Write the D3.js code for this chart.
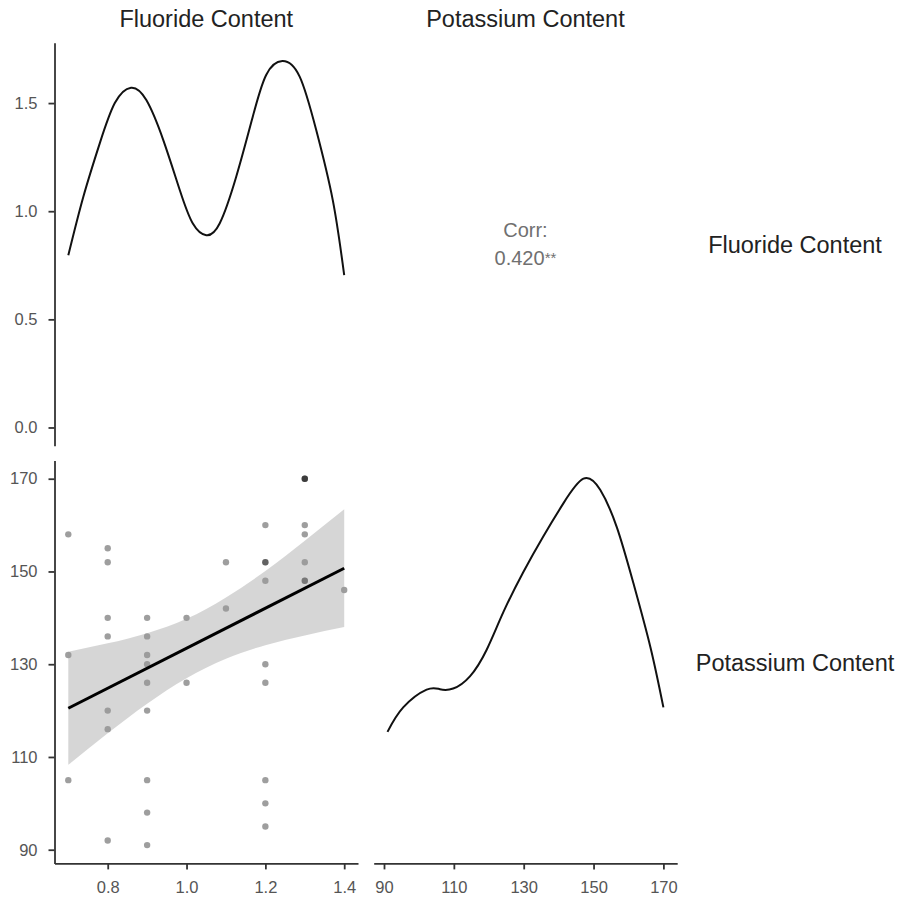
<!DOCTYPE html>
<html lang="en">
<head>
  <meta charset="UTF-8">
  <title>Fluoride and Potassium Content</title>
  <script src="https://d3js.org/d3.v7.min.js"></script>
  <style>
    body {
      margin: 0;
      background: #fff;
      font-family: "Liberation Sans", Arial, Helvetica, sans-serif;
    }
    .axis path, .axis line {
      stroke: #333;
      stroke-width: 1.8px;
    }
    .axis text {
      fill: #555;
      font-size: 16.5px;
      font-family: "Liberation Sans", Arial, Helvetica, sans-serif;
    }
    .strip {
      fill: #222;
      font-size: 23.5px;
    }
    .corr {
      fill: #707070;
      font-size: 20px;
    }
  </style>
</head>
<body>
  <div id="chart"></div>

  <script>
    // variable names
    const labels = ["Fluoride Content", "Potassium Content"];

    const fluoride = [
      0.7, 0.7, 0.7,
      0.8, 0.8, 0.8, 0.8, 0.8, 0.8, 0.8,
      0.9, 0.9, 0.9, 0.9, 0.9, 0.9, 0.9, 0.9, 0.9,
      1.0, 1.0,
      1.1, 1.1,
      1.2, 1.2, 1.2, 1.2, 1.2, 1.2, 1.2, 1.2, 1.2,
      1.3, 1.3, 1.3, 1.3, 1.3, 1.3, 1.3, 1.3,
      1.4
    ];
    const potassium = [
      158, 132, 105,
      155, 152, 140, 136, 120, 116, 92,
      140, 136, 132, 130, 126, 120, 105, 98, 91,
      140, 126,
      152, 142,
      160, 152, 152, 148, 130, 126, 105, 100, 95,
      170, 170, 170, 160, 158, 152, 148, 148,
      146
    ];

    // density curves on the diagonal
    const fluorideDensX = [0.700, 0.738, 0.780, 0.818, 0.859, 0.898, 0.941, 0.983, 1.016, 1.050,
                           1.084, 1.126, 1.168, 1.202, 1.243, 1.287, 1.329, 1.371, 1.400];
    const fluorideDensY = [0.796, 1.066, 1.315, 1.500, 1.571, 1.514, 1.329, 1.097, 0.943, 0.889,
                           0.943, 1.159, 1.437, 1.630, 1.694, 1.622, 1.375, 1.051, 0.704];
    const potassiumDensX = [91, 95.5, 102.2, 106, 109.8, 114.6, 119.4, 124.2, 129.9, 135.6, 141.4,
                            147.1, 151.9, 156.7, 161.4, 166.3, 170];
    const potassiumDensY = [0.0051, 0.0062, 0.00700, 0.00702, 0.00705, 0.0076, 0.0088, 0.0105, 0.0123, 0.0139, 0.0154,
                            0.0165, 0.0160, 0.0143, 0.0118, 0.0089, 0.0062];

    // linear fit and its confidence band
    const fitX = [0.7, 1.4];
    const fitY = [120.5, 150.7];
    const bandX = [0.7, 0.8, 0.9, 1.0, 1.1, 1.2, 1.3, 1.4];
    const bandUpper = [132.7, 134.5, 136.7, 139.8, 144.4, 150.1, 156.6, 163.4];
    const bandLower = [108.3, 115.1, 121.5, 127.0, 131.2, 134.1, 136.2, 138.0];

    // ticks
    const densityTicks = [0, 0.5, 1.0, 1.5];
    const fluorideTicks = [0.8, 1.0, 1.2, 1.4];
    const potassiumTicks = [90, 110, 130, 150, 170];

    const corrLabel = "Corr:";
    const corrValue = "0.420";
    const corrStars = "**";

    const width = 905;
    const height = 911;

    // panel grid
    const colX = [54.5, 373.7];
    const rowY = [42.8, 460.4];
    const panelW = 303.5;
    const panelH = 403;

    const expand = ext => {
      const r = ext[1] - ext[0];
      return [ext[0] - 0.05 * r, ext[1] + 0.05 * r];
    };

    const svg = d3.select("#chart")
      .append("svg")
      .attr("width", width)
      .attr("height", height);

    // scales
    const xF = d3.scaleLinear().domain(expand(d3.extent(fluoride))).range([colX[0], colX[0] + panelW]);
    const xK = d3.scaleLinear().domain(expand(d3.extent(potassium))).range([colX[1], colX[1] + panelW]);
    const yK = d3.scaleLinear().domain(expand(d3.extent(potassium))).range([rowY[1] + panelH, rowY[1]]);
    const yDF = d3.scaleLinear().domain(expand([0, d3.max(fluorideDensY)])).range([rowY[0] + panelH, rowY[0]]);
    const yDK = d3.scaleLinear().domain(expand([0, d3.max(potassiumDensY)])).range([rowY[1] + panelH, rowY[1]]);

    // top-left: fluoride density
    svg.append("path")
      .datum(d3.range(fluorideDensX.length))
      .attr("fill", "none")
      .attr("stroke", "#111")
      .attr("stroke-width", 2)
      .attr("d", d3.line()
        .x(i => xF(fluorideDensX[i]))
        .y(i => yDF(fluorideDensY[i]))
        .curve(d3.curveNatural));

    // bottom-right: potassium density
    svg.append("path")
      .datum(d3.range(potassiumDensX.length))
      .attr("fill", "none")
      .attr("stroke", "#111")
      .attr("stroke-width", 2)
      .attr("d", d3.line()
        .x(i => xK(potassiumDensX[i]))
        .y(i => yDK(potassiumDensY[i]))
        .curve(d3.curveNatural));

    // bottom-left: scatter + smooth
    svg.append("g")
      .selectAll("circle")
      .data(d3.range(fluoride.length))
      .join("circle")
      .attr("cx", i => xF(fluoride[i]))
      .attr("cy", i => yK(potassium[i]))
      .attr("r", 3.2)
      .attr("fill", "#000")
      .attr("fill-opacity", 0.38);

    svg.append("path")
      .datum(d3.range(bandX.length))
      .attr("fill", "#999")
      .attr("fill-opacity", 0.4)
      .attr("d", d3.area()
        .x(i => xF(bandX[i]))
        .y0(i => yK(bandLower[i]))
        .y1(i => yK(bandUpper[i]))
        .curve(d3.curveNatural));

    svg.append("path")
      .datum(d3.range(fitX.length))
      .attr("fill", "none")
      .attr("stroke", "#000")
      .attr("stroke-width", 3)
      .attr("d", d3.line()
        .x(i => xF(fitX[i]))
        .y(i => yK(fitY[i])));

    // axes
    svg.append("g")
      .attr("class", "axis")
      .attr("transform", `translate(${colX[0]},0)`)
      .call(d3.axisLeft(yDF).tickValues(densityTicks).tickFormat(d3.format(".1f"))
        .tickSize(6).tickSizeOuter(0).tickPadding(11));

    svg.append("g")
      .attr("class", "axis")
      .attr("transform", `translate(${colX[0]},0)`)
      .call(d3.axisLeft(yK).tickValues(potassiumTicks).tickFormat(d3.format("d"))
        .tickSize(6).tickSizeOuter(0).tickPadding(11));

    svg.append("g")
      .attr("class", "axis")
      .attr("transform", `translate(0,${rowY[1] + panelH})`)
      .call(d3.axisBottom(xF).tickValues(fluorideTicks).tickFormat(d3.format(".1f"))
        .tickSize(6).tickSizeOuter(0).tickPadding(12));

    svg.append("g")
      .attr("class", "axis")
      .attr("transform", `translate(0,${rowY[1] + panelH})`)
      .call(d3.axisBottom(xK).tickValues(potassiumTicks).tickFormat(d3.format("d"))
        .tickSize(6).tickSizeOuter(0).tickPadding(12));

    // correlation text in top-right panel
    const cx = colX[1] + panelW / 2;
    const cy = rowY[0] + panelH / 2;
    svg.append("text")
      .attr("class", "corr")
      .attr("x", cx)
      .attr("y", cy - 7)
      .attr("text-anchor", "middle")
      .text(corrLabel);
    const corrLine = svg.append("text")
      .attr("class", "corr")
      .attr("x", cx)
      .attr("y", cy + 21)
      .attr("text-anchor", "middle");
    corrLine.append("tspan").text(corrValue);
    corrLine.append("tspan")
      .attr("font-size", "15px")
      .attr("dy", "-2")
      .text(corrStars);

    // strip labels: top
    svg.selectAll(".strip-top")
      .data(labels)
      .join("text")
      .attr("class", "strip strip-top")
      .attr("x", (d, i) => colX[i] + panelW / 2)
      .attr("y", 27)
      .attr("text-anchor", "middle")
      .text(d => d);

    // strip labels: right
    svg.selectAll(".strip-right")
      .data(labels)
      .join("text")
      .attr("class", "strip strip-right")
      .attr("x", 795)
      .attr("y", (d, i) => rowY[i] + panelH / 2)
      .attr("dy", "0.38em")
      .attr("text-anchor", "middle")
      .text(d => d);
  </script>
</body>
</html>
